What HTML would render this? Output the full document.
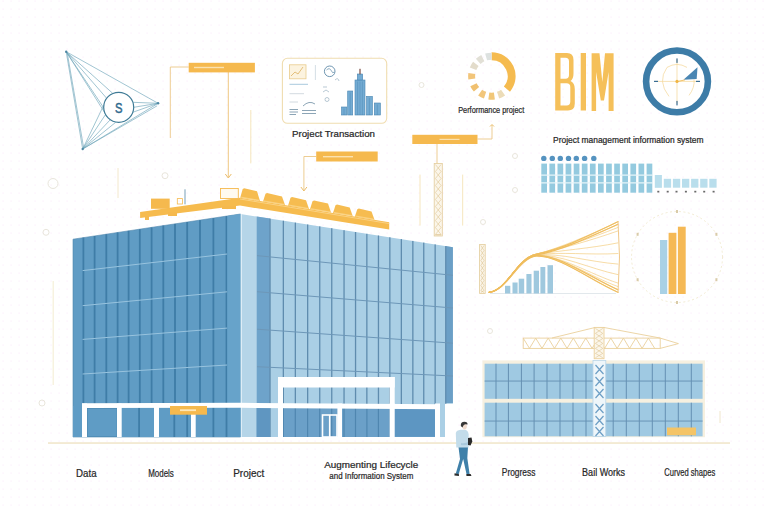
<!DOCTYPE html>
<html><head><meta charset="utf-8"><style>
html,body{margin:0;padding:0;background:#ffffff;width:768px;height:512px;overflow:hidden;}
svg{display:block;}
</style></head><body><svg width="768" height="512" viewBox="0 0 768 512"><rect x="0" y="0" width="768" height="512" fill="#ffffff"/>
<defs><pattern id="dots" x="0" y="0" width="8" height="8" patternUnits="userSpaceOnUse"><rect x="2.5" y="0.5" width="1.2" height="1.2" fill="#fbeefb"/></pattern></defs>
<rect x="0" y="0" width="768" height="512" fill="url(#dots)"/>
<g fill="none" stroke="#e9e6dc" stroke-width="1"><circle cx="53" cy="183.5" r="5"/><circle cx="46" cy="232.3" r="3"/><circle cx="42" cy="403" r="3"/><circle cx="165" cy="175.7" r="3"/><circle cx="483" cy="222" r="2.5"/><circle cx="421.5" cy="85" r="2.5"/><circle cx="515" cy="156" r="2.5"/><circle cx="515" cy="190" r="2.5"/><circle cx="490" cy="331" r="2.5"/></g>
<line x1="118" y1="168" x2="118" y2="198" stroke="#f3e8cc" stroke-width="1"/>
<line x1="720" y1="411" x2="720" y2="423" stroke="#f0e6cc" stroke-width="1"/>
<line x1="53.2" y1="281" x2="53.2" y2="385" stroke="#f5efd8" stroke-width="1.2"/>
<g fill="none" stroke="#6ea5ba" stroke-width="0.65"><line x1="66.2" y1="51.7" x2="158.1" y2="103.3"/><line x1="66.2" y1="51.7" x2="82.7" y2="149.0"/><line x1="67.2" y1="52.7" x2="83.7" y2="148.0"/><line x1="82.7" y1="149.0" x2="158.1" y2="103.3"/><line x1="82.7" y1="149.0" x2="157.1" y2="105.8"/><line x1="66.2" y1="51.7" x2="106.7" y2="98.3"/><line x1="66.2" y1="51.7" x2="112.7" y2="93.3"/><line x1="66.2" y1="51.7" x2="104.7" y2="109.3"/><line x1="158.1" y1="103.3" x2="132.7" y2="102.3"/><line x1="158.1" y1="103.3" x2="133.7" y2="107.3"/><line x1="158.1" y1="103.3" x2="132.7" y2="112.3"/><line x1="82.7" y1="149.0" x2="105.7" y2="114.3"/><line x1="82.7" y1="149.0" x2="110.7" y2="119.3"/><line x1="82.7" y1="149.0" x2="115.7" y2="122.3"/><line x1="82.7" y1="149.0" x2="103.7" y2="105.3"/><line x1="66.2" y1="51.7" x2="107.7" y2="117.3"/></g>
<circle cx="118.7" cy="107.3" r="15" fill="#ffffff" stroke="#3f7b96" stroke-width="1.2"/>
<text x="118.7" y="112.8" font-family="Liberation Sans, sans-serif" font-size="15" fill="#2f6a8e" stroke="#2f6a8e" stroke-width="0.5" text-anchor="middle" textLength="7.5" lengthAdjust="spacingAndGlyphs">S</text>
<circle cx="66.2" cy="51.7" r="1.2" fill="#4d87a3"/>
<circle cx="158.1" cy="103.3" r="1.2" fill="#4d87a3"/>
<circle cx="82.7" cy="149" r="1.2" fill="#4d87a3"/>
<g fill="none" stroke="#eac47f" stroke-width="0.85"><polyline points="188.7,67 170.3,67 170.3,138"/><line x1="228.3" y1="72" x2="228.3" y2="177" stroke="#ebbd6a"/><polyline points="316,156.5 303.9,156.5 303.9,190"/><line x1="437" y1="144" x2="437" y2="164"/><polyline points="477.5,139 492,139 492,125"/></g>
<g fill="none" stroke="#f6e6bd" stroke-width="1"><line x1="250.8" y1="110" x2="250.8" y2="163.4"/><line x1="420" y1="174.6" x2="420" y2="225.6"/><line x1="462.7" y1="174.6" x2="462.7" y2="225.6"/></g>
<g fill="none" stroke="#ebbd6a" stroke-width="1"><polyline points="225.3,174 228.3,178 231.3,174"/><polyline points="300.9,187 303.9,191 306.9,187"/><polyline points="490,126.5 492,124.5 494,126.5"/></g>
<rect x="188.7" y="62.8" width="66.2" height="9.6" fill="#f5b94e"/>
<rect x="316.2" y="151.5" width="61.5" height="10" fill="#f5b94e"/>
<rect x="412.3" y="134.8" width="65.2" height="9.2" fill="#f5b94e"/>
<g fill="#fbe2b0"><rect x="194" y="66.8" width="30" height="1.4"/><rect x="323" y="156" width="30" height="1.4"/><rect x="439.5" y="138.8" width="20" height="1.2"/></g>
<g fill="#fbf6ea" stroke="#e3cc9c" stroke-width="0.8"><rect x="434.2" y="163.5" width="8.100000000000023" height="72.5"/></g><g fill="none" stroke="#dcc08c" stroke-width="0.55"><path d="M435.4 164.5 L441.1 171.5 M441.1 164.5 L435.4 171.5"/><path d="M435.4 171.5 L441.1 178.5 M441.1 171.5 L435.4 178.5"/><path d="M435.4 178.5 L441.1 185.5 M441.1 178.5 L435.4 185.5"/><path d="M435.4 185.5 L441.1 192.5 M441.1 185.5 L435.4 192.5"/><path d="M435.4 192.5 L441.1 199.5 M441.1 192.5 L435.4 199.5"/><path d="M435.4 199.5 L441.1 206.5 M441.1 199.5 L435.4 206.5"/><path d="M435.4 206.5 L441.1 213.5 M441.1 206.5 L435.4 213.5"/><path d="M435.4 213.5 L441.1 220.5 M441.1 213.5 L435.4 220.5"/><path d="M435.4 220.5 L441.1 227.5 M441.1 220.5 L435.4 227.5"/><path d="M435.4 227.5 L441.1 234.5 M441.1 227.5 L435.4 234.5"/><path d="M435.4 234.5 L441.1 235.0 M441.1 234.5 L435.4 235.0"/></g>
<g fill="#fbf6ea" stroke="#e3cc9c" stroke-width="0.8"><rect x="479.6" y="244.5" width="5.599999999999966" height="49.0"/></g><g fill="none" stroke="#dcc08c" stroke-width="0.55"><path d="M480.8 245.5 L484.0 250.5 M484.0 245.5 L480.8 250.5"/><path d="M480.8 250.5 L484.0 255.5 M484.0 250.5 L480.8 255.5"/><path d="M480.8 255.5 L484.0 260.5 M484.0 255.5 L480.8 260.5"/><path d="M480.8 260.5 L484.0 265.5 M484.0 260.5 L480.8 265.5"/><path d="M480.8 265.5 L484.0 270.5 M484.0 265.5 L480.8 270.5"/><path d="M480.8 270.5 L484.0 275.5 M484.0 270.5 L480.8 275.5"/><path d="M480.8 275.5 L484.0 280.5 M484.0 275.5 L480.8 280.5"/><path d="M480.8 280.5 L484.0 285.5 M484.0 280.5 L480.8 285.5"/><path d="M480.8 285.5 L484.0 290.5 M484.0 285.5 L480.8 290.5"/><path d="M480.8 290.5 L484.0 292.5 M484.0 290.5 L480.8 292.5"/></g>
<polygon points="73,239.2 240.5,214 240.5,437 73,437" fill="#609cc4" stroke="#4f86ad" stroke-width="0.6"/><g fill="#3f7da7"><rect x="82.5" y="237.6" width="1.8" height="199.4"/><rect x="93.7" y="236.0" width="1.8" height="201.0"/><rect x="105.4" y="234.2" width="1.8" height="202.8"/><rect x="116.7" y="232.5" width="1.8" height="204.5"/><rect x="127.7" y="230.8" width="1.8" height="206.2"/><rect x="138.9" y="229.2" width="1.8" height="207.8"/><rect x="150.7" y="227.4" width="1.8" height="209.6"/><rect x="162.4" y="225.6" width="1.8" height="211.4"/><rect x="174.1" y="223.9" width="1.8" height="213.1"/><rect x="186.3" y="222.0" width="1.8" height="215.0"/><rect x="199.1" y="220.1" width="1.8" height="216.9"/><rect x="212.5" y="218.1" width="1.8" height="218.9"/><rect x="225.6" y="216.1" width="1.8" height="220.9"/></g><g stroke="#98c3de" stroke-width="1"><line x1="82.6" y1="270.6" x2="227.2" y2="254"/><line x1="82.6" y1="305.7" x2="227.2" y2="291.8"/><line x1="82.6" y1="339.4" x2="227.2" y2="328.1"/><line x1="82.6" y1="374" x2="227.2" y2="365"/></g><polygon points="240.5,214 256.6,216.5 256.6,437 240.5,437" fill="#b5d5e8"/><rect x="240.5" y="214" width="1.3" height="223" fill="#e8f3f9"/><polygon points="227.3,216.1 240.5,214 240.5,437 227.3,437" fill="#67a3ca"/><polygon points="256.6,216.5 452.9,247.2 452.9,437 256.6,437" fill="#aacfe5"/><polygon points="256.6,216.5 270,218.6 270,437 256.6,437" fill="#6ea3ca"/><polygon points="445.7,246.1 452.9,247.2 452.9,403 445.7,403" fill="#6b9fc6"/><g fill="#5f8cae"><rect x="269.4" y="218.6" width="1.3" height="218.4"/><rect x="282.7" y="220.7" width="1.3" height="216.3"/><rect x="294.7" y="222.6" width="1.3" height="214.4"/><rect x="307.0" y="224.5" width="1.3" height="212.5"/><rect x="319.1" y="226.4" width="1.3" height="210.6"/><rect x="331.1" y="228.2" width="1.3" height="208.8"/><rect x="343.4" y="230.2" width="1.3" height="206.8"/><rect x="354.9" y="232.0" width="1.3" height="205.0"/><rect x="366.2" y="233.8" width="1.3" height="203.2"/><rect x="377.8" y="235.5" width="1.3" height="201.5"/><rect x="389.2" y="237.3" width="1.3" height="199.7"/><rect x="400.7" y="239.1" width="1.3" height="197.9"/><rect x="412.2" y="240.9" width="1.3" height="196.1"/><rect x="423.1" y="242.6" width="1.3" height="194.4"/><rect x="434.5" y="244.4" width="1.3" height="192.6"/><rect x="445.1" y="246.1" width="1.3" height="190.9"/></g><g stroke="#6d97b8" stroke-width="1"><line x1="257" y1="255.6" x2="452.9" y2="275.3"/><line x1="257" y1="291.7" x2="452.9" y2="308"/><line x1="257" y1="329.2" x2="452.9" y2="343.2"/><line x1="257" y1="366.7" x2="452.9" y2="376"/></g><rect x="73" y="406" width="167.5" height="31" fill="#5f9cc5"/><g fill="#3f7da7"><rect x="138.2" y="406" width="1.8" height="31"/><rect x="173.4" y="406" width="1.8" height="31"/><rect x="186.3" y="406" width="1.8" height="31"/><rect x="212.5" y="406" width="1.8" height="31"/><rect x="225.6" y="406" width="1.8" height="31"/></g><rect x="87.3" y="408.5" width="29.8" height="28" fill="none" stroke="#4f8ab3" stroke-width="0.8"/><rect x="256.6" y="405" width="13.4" height="32" fill="#5f96c1"/><rect x="283" y="405" width="152" height="32" fill="#6ba0c8"/><rect x="445" y="403.8" width="9" height="34" fill="#ffffff"/><g fill="#4f86b0"><rect x="282.7" y="405" width="1.2" height="32"/><rect x="294.7" y="405" width="1.2" height="32"/><rect x="307.0" y="405" width="1.2" height="32"/><rect x="319.1" y="405" width="1.2" height="32"/><rect x="331.1" y="405" width="1.2" height="32"/><rect x="343.4" y="405" width="1.2" height="32"/><rect x="354.9" y="405" width="1.2" height="32"/><rect x="366.3" y="405" width="1.2" height="32"/><rect x="377.8" y="405" width="1.2" height="32"/><rect x="389.3" y="405" width="1.2" height="32"/></g><rect x="394.7" y="406" width="40.3" height="30.5" fill="#5d96c2"/><g fill="#ffffff"><polygon points="82,403.2 240,402.8 440,404.2 440,409.3 240,407.8 82,408"/><rect x="82" y="403.5" width="5" height="33.5"/><rect x="117" y="403.5" width="4.700000000000003" height="33.5"/><rect x="154" y="403.5" width="5" height="33.5"/><rect x="191" y="403.5" width="4.699999999999989" height="33.5"/><rect x="278" y="403.5" width="5" height="33.5"/><rect x="337.4" y="403.5" width="4.600000000000023" height="33.5"/><rect x="389.6" y="403.5" width="5.099999999999966" height="33.5"/><rect x="435" y="403.5" width="5" height="33.5"/><rect x="278" y="377" width="116.7" height="10.5"/><rect x="278" y="377" width="5" height="30"/><rect x="389.6" y="377" width="5.1" height="30"/></g><g fill="none" stroke="#ffffff" stroke-width="1.6"><rect x="322.5" y="415" width="14.5" height="22"/><line x1="329.7" y1="415" x2="329.7" y2="437"/></g><rect x="170" y="406" width="37" height="8.7" fill="#f5b94e"/><rect x="180" y="409.3" width="16" height="1.8" fill="#fde7b8"/>
<rect x="48" y="442.2" width="682" height="1.7" fill="#f2e8cf"/>
<polygon points="140.1,212 240,197.8 389.2,222.3 389.2,229.5 240,205.6 140.1,218" fill="#f6bb4e"/><polyline points="240,199 389.2,223.6" fill="none" stroke="#fbd78f" stroke-width="0.8"/><rect x="151" y="198.6" width="18.7" height="10.2" fill="#f5b94e"/><rect x="177.3" y="198.6" width="5.1" height="5.4" fill="none" stroke="#f5b94e" stroke-width="0.8"/><rect x="184.4" y="189.3" width="1.2" height="15" fill="#8fb0c4"/><rect x="220.5" y="188.5" width="17.8" height="10" fill="#fffaf0" stroke="#f5b94e" stroke-width="0.9"/><polygon points="240.2,197.8 242.7,189.1 244.2,188.3 257.0,191.3 260.0,200.9" fill="#f6bc50"/><line x1="241.2" y1="197.2" x2="259.0" y2="200.3" stroke="#fcdc98" stroke-width="0.7"/><polygon points="263.0,201.6 265.5,193.8 267.0,193.0 282.0,196.4 285.0,205.0" fill="#f6bc50"/><line x1="264.0" y1="201.0" x2="284.0" y2="204.4" stroke="#fcdc98" stroke-width="0.7"/><polygon points="288.0,205.7 290.5,197.8 292.0,197.0 306.0,200.2 309.0,209.0" fill="#f6bc50"/><line x1="289.0" y1="205.1" x2="308.0" y2="208.4" stroke="#fcdc98" stroke-width="0.7"/><polygon points="310.0,209.3 312.5,201.2 314.0,200.4 328.0,203.6 331.0,212.6" fill="#f6bc50"/><line x1="311.0" y1="208.7" x2="330.0" y2="212.0" stroke="#fcdc98" stroke-width="0.7"/><polygon points="333.0,213.1 335.5,205.2 337.0,204.4 349.7,207.4 352.7,216.1" fill="#f6bc50"/><line x1="334.0" y1="212.5" x2="351.7" y2="215.5" stroke="#fcdc98" stroke-width="0.7"/><polygon points="354.8,216.7 357.3,209.3 358.8,208.5 371.5,211.5 374.5,219.7" fill="#f6bc50"/><line x1="355.8" y1="216.1" x2="373.5" y2="219.1" stroke="#fcdc98" stroke-width="0.7"/><g fill="#f5b94e"><rect x="145" y="216" width="4" height="4"/><rect x="168" y="212" width="9" height="4"/><rect x="222" y="206" width="14" height="3"/></g>
<rect x="282.4" y="58.3" width="104.3" height="65" rx="5" fill="#ffffff" stroke="#f0ddb0" stroke-width="1.1"/><rect x="289.5" y="64.8" width="16.5" height="14" fill="#fcf3df" stroke="#e9cc8e" stroke-width="0.8"/><polyline points="291,76 295,72 298,74 303,67" fill="none" stroke="#d9a850" stroke-width="0.7"/><line x1="315.4" y1="65" x2="315.4" y2="80" stroke="#c9d6de" stroke-width="0.8"/><circle cx="329.7" cy="71.3" r="5.3" fill="none" stroke="#5f8aa8" stroke-width="0.9"/><path d="M326.5 70 q3 -3 5 1 q1 3 3 1" fill="none" stroke="#5f8aa8" stroke-width="0.7"/><g stroke="#9fc3da" stroke-width="0.9"><line x1="289.5" y1="84.3" x2="308" y2="84.3"/></g><g stroke="#c7d1d8" stroke-width="0.8"><line x1="289.5" y1="93.7" x2="304" y2="93.7"/><line x1="289.5" y1="102" x2="298" y2="102"/></g><g stroke="#6f8ea3" stroke-width="0.8"><line x1="289.5" y1="109.5" x2="298" y2="109.5"/><line x1="289.5" y1="112" x2="298" y2="112"/><line x1="289.5" y1="114.5" x2="296" y2="114.5"/><line x1="302" y1="110.5" x2="316" y2="110.5"/><line x1="302" y1="113.5" x2="316" y2="113.5"/></g><path d="M303 106 q6 -6 12 -2" fill="none" stroke="#6f8ea3" stroke-width="0.8"/><g fill="none" stroke="#9bb2c2" stroke-width="0.7"><circle cx="327" cy="99.5" r="2"/><path d="M323 92 l3 -2 l3 2"/><path d="M335 80 q3 -3 4 1"/><line x1="323" y1="87" x2="327" y2="87"/></g><g fill="#74acd3" stroke="#4a86b2" stroke-width="0.6"><rect x="341.5" y="107" width="5.3" height="8.0"/><rect x="347.7" y="91" width="5.0" height="24.0"/><rect x="355" y="80" width="10.0" height="35.0"/><rect x="366.5" y="96.4" width="5.9" height="18.6"/><rect x="374.3" y="103" width="6.1" height="12.0"/><rect x="357.3" y="74" width="5.4" height="6"/></g><rect x="359.4" y="68.8" width="1.2" height="5.5" fill="#7a4a40"/><g stroke="#4a86b2" stroke-width="0.45"><line x1="350.2" y1="92.5" x2="350.2" y2="115"/><line x1="357.6" y1="81.5" x2="357.6" y2="115"/><line x1="360" y1="81.5" x2="360" y2="115"/><line x1="362.4" y1="81.5" x2="362.4" y2="115"/><line x1="369.4" y1="97.9" x2="369.4" y2="115"/><line x1="377.3" y1="104.5" x2="377.3" y2="115"/><line x1="344" y1="108.5" x2="344" y2="115"/></g>
<path d="M491.60 56.20 A20 20 0 0 1 506.92 89.06" fill="none" stroke="#f5bb4f" stroke-width="8"/>
<path d="M503.07 92.58 A20 20 0 0 1 498.11 95.11" fill="none" stroke="#ecdcb8" stroke-width="7" stroke-linejoin="round"/>
<path d="M494.38 96.01 A20 20 0 0 1 488.82 96.01" fill="none" stroke="#f1c778" stroke-width="7" stroke-linejoin="round"/>
<path d="M485.09 95.11 A20 20 0 0 1 480.13 92.58" fill="none" stroke="#f2c67a" stroke-width="7" stroke-linejoin="round"/>
<path d="M476.51 89.32 A20 20 0 0 1 473.47 84.65" fill="none" stroke="#f0c070" stroke-width="7" stroke-linejoin="round"/>
<path d="M471.79 78.98 A20 20 0 0 1 471.79 73.42" fill="none" stroke="#f2c57a" stroke-width="7" stroke-linejoin="round"/>
<path d="M473.06 68.71 A20 20 0 0 1 475.84 63.89" fill="none" stroke="#e3dccb" stroke-width="7" stroke-linejoin="round"/>
<path d="M478.22 61.34 A20 20 0 0 1 482.83 58.22" fill="none" stroke="#e2e0d6" stroke-width="7" stroke-linejoin="round"/>
<path d="M486.09 56.97 A20 20 0 0 1 491.60 56.20" fill="none" stroke="#dde2e0" stroke-width="7" stroke-linejoin="round"/>
<g fill="#f5c05a" fill-rule="evenodd"><path d="M555.2 53 H567 Q573.5 53 573.5 60 V73.5 Q573.5 79 570.5 81 Q574.8 83 574.8 89 V103.5 Q574.8 110.5 568 110.5 H555.2 Z M560.5 57.8 V78.7 H565.5 Q569 78.7 569 75 V61.5 Q569 57.8 565.5 57.8 Z M560.5 83.3 V105.5 H566.5 Q570.3 105.5 570.3 101.8 V87 Q570.3 83.3 566.5 83.3 Z"/><rect x="580.7" y="53" width="5.3" height="57.5"/><path d="M591.6 53.2 H599.5 L602.3 82 L605 53.2 H613.6 V110.9 H608.6 V72 L604 100.5 H600.8 L596.1 72 V110.9 H591.6 Z"/></g>
<circle cx="677" cy="81.4" r="30.9" fill="#ffffff" stroke="#3d7ca7" stroke-width="6.6"/>
<g fill="none" stroke="#f3d595" stroke-width="0.7"><line x1="655" y1="81.4" x2="699" y2="81.4"/><line x1="677" y1="59.400000000000006" x2="677" y2="103.4"/><path d="M669 96.4 Q657 81.4 667 67.4 Q677 61.400000000000006 687 67.4"/><path d="M689 95.4 Q695 87.4 694 79.4"/></g>
<circle cx="677" cy="81.4" r="1.6" fill="#f0b545"/>
<g fill="#3a6d93"><rect x="676.4" y="58.400000000000006" width="1.2" height="4.5"/><rect x="676.4" y="100.9" width="1.2" height="4.5"/><rect x="654" y="80.80000000000001" width="4" height="1.2"/><rect x="696" y="80.80000000000001" width="4" height="1.2"/></g>
<polygon points="683.4,79.80000000000001 697.5,67.30000000000001 696.7,79.0" fill="#4a86b3"/>
<line x1="678" y1="81.4" x2="685" y2="79.9" stroke="#f0b545" stroke-width="0.8"/>
<g fill="#94cadf"><rect x="541.3" y="163.6" width="5.7" height="29.1"/><rect x="549.4" y="163.6" width="5.7" height="29.1"/><rect x="557.5" y="163.6" width="5.7" height="29.1"/><rect x="565.6" y="163.6" width="5.7" height="29.1"/><rect x="573.7" y="163.6" width="5.7" height="29.1"/><rect x="581.8" y="163.6" width="5.7" height="29.1"/><rect x="589.9" y="163.6" width="5.7" height="29.1"/><rect x="598.0" y="163.6" width="5.7" height="29.1"/><rect x="606.1" y="163.6" width="5.7" height="29.1"/><rect x="614.2" y="163.6" width="5.7" height="29.1"/><rect x="622.3" y="163.6" width="5.7" height="29.1"/><rect x="630.4" y="163.6" width="5.7" height="29.1"/><rect x="638.5" y="163.6" width="5.7" height="29.1"/><rect x="646.6" y="163.6" width="5.7" height="29.1"/></g>
<g stroke="#e6f4f9" stroke-width="1.2"><line x1="541" y1="175.1" x2="653" y2="175.1"/><line x1="541" y1="182.8" x2="653" y2="182.8"/></g>
<g fill="#5593c0"><circle cx="543.8" cy="158.4" r="2.7"/><circle cx="552.3" cy="158.4" r="2.7"/><circle cx="560.3" cy="158.4" r="2.7"/><circle cx="568.5" cy="158.4" r="2.7"/><circle cx="576.3" cy="158.4" r="2.7"/><circle cx="584.6" cy="158.4" r="2.7"/><circle cx="593.8" cy="158.4" r="2.7"/></g>
<g fill="#b9deec"><rect x="654.8" y="175" width="7.1" height="12.8"/><rect x="663.8" y="178.8" width="7.3" height="8.9"/><rect x="672.9" y="178.8" width="7.3" height="8.9"/><rect x="682.0" y="178.8" width="7.3" height="8.9"/><rect x="691.1" y="178.8" width="7.3" height="8.9"/><rect x="700.2" y="178.8" width="7.3" height="8.9"/><rect x="709.3" y="178.8" width="7.3" height="8.9"/></g>
<g fill="#6a6a6a"><rect x="657.3" y="190.8" width="2" height="1.7"/><rect x="666.7" y="190.8" width="2" height="1.7"/><rect x="675.5" y="190.8" width="2" height="1.7"/><rect x="684.9" y="190.8" width="2" height="1.7"/><rect x="694.3" y="190.8" width="2" height="1.7"/><rect x="703.2" y="190.8" width="2" height="1.7"/><rect x="712.6" y="190.8" width="2" height="1.7"/></g>
<line x1="490" y1="293.5" x2="616" y2="293.5" stroke="#e2e8ec" stroke-width="1"/>
<g fill="#9fc8de"><rect x="505" y="285.8" width="5.3" height="7.7"/><rect x="512.5" y="282.5" width="5.1" height="11.0"/><rect x="518.7" y="278.7" width="5.5" height="14.8"/><rect x="526.4" y="274" width="5.1" height="19.5"/><rect x="533.7" y="270.7" width="5.3" height="22.8"/><rect x="540.4" y="267" width="4.9" height="26.5"/><rect x="547.5" y="265.2" width="5.5" height="28.3"/></g>
<g fill="none" stroke="#f1c46c" stroke-width="0.6"><path d="M488.8 292.4 C508 290 516 258 536.4 254.1 C560 248.0 590 235.0 618.3 221.6"/><path d="M488.8 292.4 C508 290 516 258 536.4 254.1 C560 248.3 590 236.8 618.3 224.4"/><path d="M488.8 292.4 C508 290 516 258 536.4 254.2 C560 248.6 590 238.6 618.3 227.3"/><path d="M488.8 292.4 C508 290 516 258 536.4 254.2 C560 249.0 590 240.8 618.3 230.8"/><path d="M488.8 292.4 C508 290 516 258 536.4 254.5 C560 250.4 590 248.5 618.3 242.8"/><path d="M488.8 292.4 C508 290 516 258 536.4 254.7 C560 251.6 590 255.2 618.3 253.5"/><path d="M488.8 292.4 C508 290 516 258 536.4 255.0 C560 252.8 590 262.0 618.3 264.1"/><path d="M488.8 292.4 C508 290 516 258 536.4 255.2 C560 254.0 590 268.8 618.3 274.7"/><path d="M488.8 292.4 C508 290 516 258 536.4 255.4 C560 255.0 590 274.1 618.3 283.2"/><path d="M488.8 292.4 C508 290 516 258 536.4 255.4 C560 255.4 590 276.4 618.3 286.7"/><path d="M488.8 292.4 C508 290 516 258 536.4 255.5 C560 255.7 590 278.2 618.3 289.6"/><path d="M488.8 292.4 C508 290 516 258 536.4 255.6 C560 256.0 590 280.0 618.3 292.4"/></g>
<g fill="none" stroke="#efbd5e" stroke-width="1.1"><path d="M488.8 292.4 C508 290 516 258 536.4 254 C560 250 590 235 618.3 221.6"/><path d="M488.8 292.4 C508 290.5 517 259 536.4 256 C560 256 590 280 618.3 292.4"/><path d="M488.8 292.4 C508 290 516.5 258.5 536.4 255 C560 251 590 237 618.3 224"/><path d="M488.8 292.4 C508 290 516.5 258.5 536.4 255.5 C560 255 590 277 618.3 290"/></g>
<path d="M618 221 Q621 257 618 293" fill="none" stroke="#f0c88a" stroke-width="1"/>
<circle cx="677" cy="257" r="45.5" fill="none" stroke="#efe6c8" stroke-width="0.8" stroke-dasharray="2 2.5"/>
<rect x="660" y="240" width="7.2" height="54" fill="#a9d1e5"/><rect x="668.6" y="232.8" width="7.8" height="61.2" fill="#f5b955"/><rect x="677.9" y="226.7" width="7.8" height="67.3" fill="#f5b955"/>
<g fill="#d9cba8"><rect x="676.0" y="210.0" width="2" height="3"/><rect x="715.4" y="232.8" width="2" height="3"/><rect x="715.4" y="278.2" width="2" height="3"/><rect x="676.0" y="301.0" width="2" height="3"/><rect x="636.6" y="278.2" width="2" height="3"/><rect x="636.6" y="232.8" width="2" height="3"/></g>
<rect x="482.4" y="360.4" width="222.6" height="76.8" fill="#f6f0e0"/><rect x="484.6" y="363.7" width="218" height="35.1" fill="#9fc9e2"/><rect x="484.6" y="402.7" width="218" height="33.6" fill="#9fc9e2"/><g fill="#6590b2"><rect x="495.5" y="363.7" width="1" height="35.1"/><rect x="495.5" y="402.7" width="1" height="33.6"/><rect x="507.9" y="363.7" width="1" height="35.1"/><rect x="507.9" y="402.7" width="1" height="33.6"/><rect x="520.9" y="363.7" width="1" height="35.1"/><rect x="520.9" y="402.7" width="1" height="33.6"/><rect x="533.6" y="363.7" width="1" height="35.1"/><rect x="533.6" y="402.7" width="1" height="33.6"/><rect x="546.5" y="363.7" width="1" height="35.1"/><rect x="546.5" y="402.7" width="1" height="33.6"/><rect x="559.5" y="363.7" width="1" height="35.1"/><rect x="559.5" y="402.7" width="1" height="33.6"/><rect x="572.5" y="363.7" width="1" height="35.1"/><rect x="572.5" y="402.7" width="1" height="33.6"/><rect x="585.5" y="363.7" width="1" height="35.1"/><rect x="585.5" y="402.7" width="1" height="33.6"/><rect x="604.5" y="363.7" width="1" height="35.1"/><rect x="604.5" y="402.7" width="1" height="33.6"/><rect x="612.7" y="363.7" width="1" height="35.1"/><rect x="612.7" y="402.7" width="1" height="33.6"/><rect x="625.8" y="363.7" width="1" height="35.1"/><rect x="625.8" y="402.7" width="1" height="33.6"/><rect x="638.8" y="363.7" width="1" height="35.1"/><rect x="638.8" y="402.7" width="1" height="33.6"/><rect x="651.8" y="363.7" width="1" height="35.1"/><rect x="651.8" y="402.7" width="1" height="33.6"/><rect x="664.8" y="363.7" width="1" height="35.1"/><rect x="664.8" y="402.7" width="1" height="33.6"/><rect x="677.8" y="363.7" width="1" height="35.1"/><rect x="677.8" y="402.7" width="1" height="33.6"/><rect x="690.8" y="363.7" width="1" height="35.1"/><rect x="690.8" y="402.7" width="1" height="33.6"/><rect x="484.6" y="380.6" width="218" height="0.9"/><rect x="484.6" y="420.6" width="218" height="0.9"/></g><rect x="593" y="360.4" width="12.8" height="76" fill="#eef6fa" stroke="#b9d6e8" stroke-width="0.8"/><g fill="none" stroke="#6d9fc5" stroke-width="1.2"><path d="M595.5 365 L603.5 374 M603.5 365 L595.5 374"/><path d="M595.5 377 L603.5 386 M603.5 377 L595.5 386"/><path d="M595.5 389 L603.5 398 M603.5 389 L595.5 398"/><path d="M595.5 404 L603.5 413 M603.5 404 L595.5 413"/><path d="M595.5 416 L603.5 425 M603.5 416 L595.5 425"/><path d="M595.5 427 L603.5 436 M603.5 427 L595.5 436"/></g><rect x="667" y="427.5" width="29" height="7.8" fill="#f4c466"/><g fill="none" stroke="#ead09c" stroke-width="0.9"><rect x="523.2" y="338.1" width="137" height="10.299999999999955"/><polyline points="523.2,338.1 529.5,348.4 535.7,338.1 542.0,348.4 548.2,338.1 554.5,348.4 560.8,338.1 567.0,348.4 573.3,338.1 579.5,348.4 585.8,338.1 592.1,348.4 598.3,338.1 604.6,348.4 610.8,338.1 617.1,348.4 623.4,338.1 629.6,348.4 635.9,338.1 642.1,348.4 648.4,338.1 654.7,348.4"/><polyline points="660.2,338.1 678.4,343.6 660.2,348.4"/><line x1="552" y1="338" x2="595" y2="327.5"/><line x1="604" y1="327.5" x2="660" y2="338"/></g><g fill="#fbf6ea" stroke="#ead09c" stroke-width="0.9"><rect x="594.2" y="327.4" width="9.799999999999955" height="31.30000000000001"/></g><g fill="none" stroke="#dcc08c" stroke-width="0.55"><path d="M595.4 328.4 L602.8 333.4 M602.8 328.4 L595.4 333.4"/><path d="M595.4 333.4 L602.8 338.4 M602.8 333.4 L595.4 338.4"/><path d="M595.4 338.4 L602.8 343.4 M602.8 338.4 L595.4 343.4"/><path d="M595.4 343.4 L602.8 348.4 M602.8 343.4 L595.4 348.4"/><path d="M595.4 348.4 L602.8 353.4 M602.8 348.4 L595.4 353.4"/><path d="M595.4 353.4 L602.8 357.7 M602.8 353.4 L595.4 357.7"/></g>
<path d="M458.5 447 L468 447 L467.3 458 L469.6 474 L466.6 474.4 L463.2 459 L458.6 474.4 L455.8 473.6 L460 459 Z" fill="#3f80a9"/><path d="M455.8 433 Q456.5 430.3 460.5 429.8 L465 429.8 Q468.2 430.5 468.6 434 L468.6 447.4 L456.3 447.4 Z" fill="#c3dcea"/><path d="M461 443 Q465 444 470 441 L470 444 Q465 446 461 445 Z" fill="#a9c9dc"/><ellipse cx="464.6" cy="426.6" rx="2.3" ry="2.8" fill="#f0ddd0"/><path d="M460.8 426 Q460.5 421.8 464.5 421.8 Q467.8 422 467.5 424.5 L465 424.3 Q463 425 462.5 427.5 Z" fill="#363636"/><path d="M468 438 L471.5 437.5 L472.3 441.5 L470.5 445.5 L468 445 Z" fill="#2a2a2a"/><path d="M454.6 473.3 L458.8 474 L459 476 L454.4 475.6 Z M466.4 474 L470.6 474 L471.5 476 L466.4 476 Z" fill="#2c2c2c"/>
<text x="333.5" y="137" font-family="Liberation Sans, sans-serif" font-size="9.5" fill="#272727" text-anchor="middle" textLength="83" lengthAdjust="spacingAndGlyphs" stroke="#272727" stroke-width="0.22">Project Transaction</text><text x="491.2" y="112.7" font-family="Liberation Sans, sans-serif" font-size="9" fill="#272727" text-anchor="middle" textLength="66" lengthAdjust="spacingAndGlyphs" stroke="#272727" stroke-width="0.22">Performance project</text><text x="628.3" y="143.3" font-family="Liberation Sans, sans-serif" font-size="8.5" fill="#272727" text-anchor="middle" textLength="150.5" lengthAdjust="spacingAndGlyphs" stroke="#272727" stroke-width="0.22">Project management information system</text><text x="86.3" y="476.5" font-family="Liberation Sans, sans-serif" font-size="10.6" fill="#272727" text-anchor="middle" textLength="20.5" lengthAdjust="spacingAndGlyphs" stroke="#272727" stroke-width="0.22">Data</text><text x="161" y="476.5" font-family="Liberation Sans, sans-serif" font-size="10.6" fill="#272727" text-anchor="middle" textLength="25.7" lengthAdjust="spacingAndGlyphs" stroke="#272727" stroke-width="0.22">Models</text><text x="248.7" y="476.5" font-family="Liberation Sans, sans-serif" font-size="10.6" fill="#272727" text-anchor="middle" textLength="31" lengthAdjust="spacingAndGlyphs" stroke="#272727" stroke-width="0.22">Project</text><text x="371.2" y="467.6" font-family="Liberation Sans, sans-serif" font-size="9.6" fill="#272727" text-anchor="middle" textLength="94" lengthAdjust="spacingAndGlyphs" stroke="#272727" stroke-width="0.22">Augmenting Lifecycle</text><text x="371.3" y="478.6" font-family="Liberation Sans, sans-serif" font-size="9.6" fill="#272727" text-anchor="middle" textLength="84" lengthAdjust="spacingAndGlyphs" stroke="#272727" stroke-width="0.22">and Information System</text><text x="518.6" y="476" font-family="Liberation Sans, sans-serif" font-size="10.6" fill="#272727" text-anchor="middle" textLength="33.6" lengthAdjust="spacingAndGlyphs" stroke="#272727" stroke-width="0.22">Progress</text><text x="603.6" y="476" font-family="Liberation Sans, sans-serif" font-size="10.6" fill="#272727" text-anchor="middle" textLength="43" lengthAdjust="spacingAndGlyphs" stroke="#272727" stroke-width="0.22">Bail Works</text><text x="689.7" y="476" font-family="Liberation Sans, sans-serif" font-size="10.6" fill="#272727" text-anchor="middle" textLength="51" lengthAdjust="spacingAndGlyphs" stroke="#272727" stroke-width="0.22">Curved shapes</text></svg></body></html>
